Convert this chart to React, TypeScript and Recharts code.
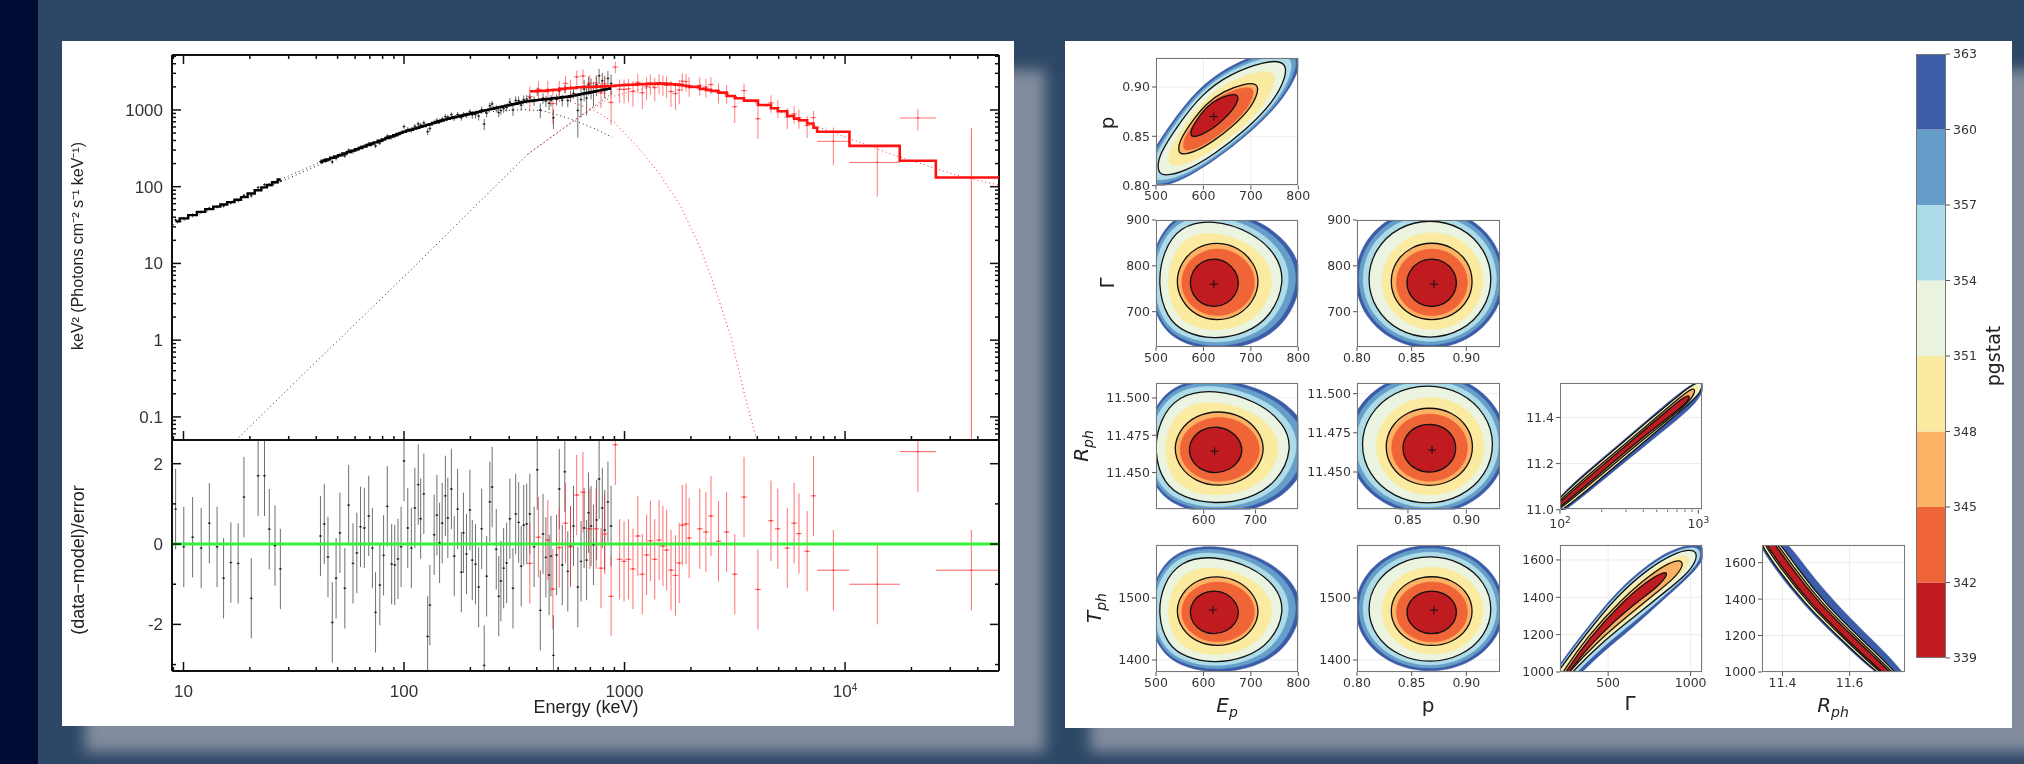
import React from 'react';
import {
  Bar, BarChart, CartesianGrid, ErrorBar, ReferenceLine, Scatter, ScatterChart, XAxis, YAxis,
} from 'recharts';

const blackEnergy = [9.21, 10.03, 11, 12.03, 13.1, 14.2, 15.2, 16.4, 17.7, 18.8, 20.3, 21.8, 23.3, 24.5, 26, 27.5,
  41.8, 43.5, 45.2, 47.3, 49.2, 51.2, 53.9, 56.1, 58.7, 61.1, 63.5, 66.1, 69.2, 71.9, 74.3, 77.7, 80.8, 84, 87.9, 90.8, 93.9, 97,
  100, 104, 108, 112, 116, 119, 123, 128, 131, 137, 141, 145, 149, 154, 158, 164, 169, 175, 182, 186, 192, 199, 204, 211, 218, 225, 231, 237,
  245, 251, 262, 269, 275, 283, 292, 302, 312, 321, 331, 340, 349, 360, 372, 389, 402, 415, 427, 440, 455, 464, 476, 492, 506, 522, 536, 553,
  569, 587, 614, 635, 656, 673, 687, 705, 723, 747, 767, 793, 813, 841, 869];
const blackResid = [0.87, -0.07, 0.17, -0.1, 0.52, -0.07, -0.85, -0.46, -0.48, 1.17, -1.35, 1.7, 1.7, 0.37, -0.04, -0.62,
  0.2, 0.5, -0.32, -1.95, -0.85, 0.28, -1.1, 0.97, -0.48, -0.22, 0.43, 0.4, 0.7, -0.1, -1.7, -1.02, -0.28, 0.94, -0.5, -0.52, -0.37, -0.07,
  2.07, 0.4, -0.1, 0.9, 1.48, 0.63, 1.25, -2.3, -1.52, 0.23, 0.72, 0.03, 0.52, 1.2, 0.65, 1.37, -0.3, 0.87, -0.7, 0.28, -0.25, 0.85, -0.4, -0.5, -1.07, 0.38, -3.02, -0.8,
  1.05, 1.42, -0.13, -1.3, -0.92, -0.6, -0.47, 0.63, -1.1, 0.75, 0.54, -0.55, 0.47, 0.5, 0.75, -0.07, 1.85, -1.65, 0.25, -0.33, -0.77, -0.3, -2.77, -0.27, 1.37, -0.52, 1.8, -0.68,
  -0.05, 0.45, -1.07, -0.43, 0.4, -0.4, 0.78, 0.45, -0.02, 0.6, 1.62, 0.9, 0.35, 1.05, 0.45];
const blackModel = [35.3, 38.6, 42.6, 47, 51, 55, 58.7, 63, 67.5, 73, 81.5, 90, 98, 105, 114, 124,
  210, 218, 227, 238, 247, 257, 271, 282, 295, 307, 319, 333, 349, 365, 378, 396, 413, 431, 452, 469, 485, 503,
  521, 538, 553, 571, 587, 601, 617, 638, 652, 678, 692, 711, 728, 748, 764, 785, 802, 818, 839, 853, 871, 889, 904, 923, 944, 964, 979, 995,
  1016, 1035, 1059, 1079, 1096, 1114, 1138, 1161, 1186, 1205, 1230, 1253, 1274, 1294, 1309, 1327, 1343, 1356, 1368, 1384, 1396, 1406, 1419, 1432, 1445, 1462, 1472, 1489,
  1510, 1538, 1578, 1607, 1637, 1660, 1679, 1702, 1726, 1758, 1786, 1820, 1845, 1879, 1914];
const blackErrLimits = [30, 100, 200, 300, 400, 600, 100000];
const blackErrFractions = [0.05, 0.06, 0.08, 0.11, 0.14, 0.16, 0.35];

const redEnergy = [372, 407, 449, 473, 506, 540, 569, 607, 648, 696, 743, 782, 813, 869, 908, 950, 995, 1042, 1092, 1149, 1204, 1259, 1309, 1371, 1435, 1493, 1552, 1625, 1702, 1770, 1828, 1901, 1963,
  2193, 2339, 2466, 2667, 2904, 3162, 3483, 4027, 4613, 4955, 5470, 5875, 6180, 6730, 7194];
const redResid = [-0.48, 0.17, 0.1, -1.12, -0.09, 0.52, -0.07, 1.22, 1.29, 0.38, 0.38, -0.6, 0.25, -1.3, 2.47, -0.38, -0.43, -0.38, -0.62, 0.2, -0.75, -0.27, 0.08, -0.38, 0.1, -0.05, -0.15, -0.65, -0.78, -0.47, 0.47, 0.5, 0.15,
  0.38, 0.3, 0.7, 0.07, 0.3, -0.75, 1.17, -1.13, 0.58, 0.38, -0.1, 0.52, 0.26, -0.18, 1.2];
const redModel = [1750, 1770, 1805, 1824, 1880, 1918, 1938, 1977, 1998, 2000, 2015, 2030, 2038, 2058, 2078, 2100, 2120, 2130, 2140, 2161, 2161, 2185, 2185, 2206, 2206, 2206, 2185, 2161, 2140, 2120, 2078, 2038, 1998,
  1880, 1824, 1770, 1684, 1523, 1420, 1324, 1162, 1051, 961, 835, 767, 734, 665, 585];
const wideEnergy = [8850, 14000, 21400, 37400];
const wideLow = [7470, 10470, 17700, 25800];
const wideHigh = [10470, 17700, 25800, 49500];
const wideResid = [-0.65, -1.0, 2.3, -0.65];
const wideModel = [520, 340, 218, 132];
const wideErr = [200, 133, 247, 445];

const totalGapE = [27.5, 41.8];
const totalGapF = [124, 210];
const softE = [9, 15, 28, 50, 100, 160, 209, 272, 353, 430, 557, 723, 880];
const softF = [32, 58, 118, 245, 510, 750, 887, 980, 1010, 970, 780, 580, 440];
const hardBlackE = [17.3, 33.7, 64.7, 116, 209, 365, 595, 879];
const hardBlackF = [0.0497, 0.326, 2, 10.2, 54.8, 267, 740, 1650];
const hardRedE = [365, 458, 595, 723, 879, 1140, 1480, 1922, 2340, 3240, 4490, 6220, 8630, 12000, 16600, 23000, 31800, 49500];
const hardRedF = [267, 427, 740, 1050, 1490, 1820, 2120, 2050, 1820, 1490, 1100, 740, 521, 367, 259, 192, 142, 105];
const softRedE = [595, 723, 908, 1178, 1435, 1803, 2193, 2500, 3040, 3460, 3940];
const softRedF = [1222, 1000, 670, 301, 149, 54.8, 16.5, 6.06, 1.1, 0.223, 0.055];

const energyMajor = [10, 100, 1000, 10000];
const energyMinor = [9, 20, 30, 40, 50, 60, 70, 80, 90, 200, 300, 400, 500, 600, 700, 800, 900, 2000, 3000, 4000, 5000, 6000, 7000, 8000, 9000, 20000, 30000, 40000];
const fluxMajor = [0.1, 1, 10, 100, 1000];
const fluxMinor = [0.06, 0.07, 0.08, 0.09, 0.2, 0.3, 0.4, 0.5, 0.6, 0.7, 0.8, 0.9, 2, 3, 4, 5, 6, 7, 8, 9, 20, 30, 40, 50, 60, 70, 80, 90, 200, 300, 400, 500, 600, 700, 800, 900, 2000, 3000, 4000, 5000];
const residMajor = [-2, 0, 2];
const residMinor = [-3, -1, 1];
const residDomain = [-3.16, 2.59];

// ---- contour levels, outermost first
const levelColors = ['#3c5ca8', '#659ec9', '#aedbe8', '#eaf4e0', '#faeba0', '#fbb265', '#f06537', '#c11b22'];
const levelOutlined = [false, false, false, true, false, true, false, true];
const levelTicks = [339, 342, 345, 348, 351, 354, 357, 360, 363];
const levelSegments = [342, 3, 3, 3, 3, 3, 3, 3];

const eggEp = [
  [813, 791, 727, 625, 539, 496, 481, 506, 552, 625, 708, 776],
  [803, 782, 720, 623, 541, 499, 485, 509, 553, 623, 703, 768],
  [787, 768, 710, 620, 543, 504, 491, 513, 555, 620, 694, 754],
  [773, 755, 703, 620, 550, 515, 503, 523, 561, 620, 688, 743],
  [750, 735, 691, 621, 562, 532, 522, 539, 571, 621, 678, 725],
  [719, 707, 675, 630, 585, 553, 541, 553, 585, 630, 675, 707],
  [711, 701, 671, 631, 591, 561, 551, 561, 591, 631, 671, 701],
  [676, 669, 650, 623, 596, 577, 570, 577, 596, 623, 650, 669],
];
const eggGamma = [
  [767, 838, 897, 930, 913, 846, 757, 670, 631, 614, 628, 674],
  [767, 835, 892, 923, 907, 843, 758, 674, 638, 621, 635, 679],
  [766, 831, 884, 914, 898, 838, 758, 679, 645, 629, 642, 683],
  [766, 825, 874, 902, 887, 832, 758, 685, 654, 639, 651, 689],
  [763, 812, 853, 876, 864, 818, 756, 696, 669, 657, 667, 699],
  [766, 807, 840, 853, 842, 809, 766, 723, 690, 679, 691, 724],
  [764, 800, 829, 840, 830, 802, 764, 726, 698, 688, 699, 727],
  [763, 788, 809, 817, 810, 790, 763, 736, 716, 709, 717, 737],
];
const roundP = [
  [0.9372, 0.928, 0.9019, 0.8665, 0.8311, 0.805, 0.7958, 0.805, 0.8311, 0.8665, 0.9019, 0.928],
  [0.9341, 0.9253, 0.9003, 0.8665, 0.8327, 0.8077, 0.7989, 0.8077, 0.8327, 0.8665, 0.9003, 0.9253],
  [0.9302, 0.9219, 0.8984, 0.8665, 0.8346, 0.8111, 0.8028, 0.8111, 0.8346, 0.8665, 0.8984, 0.9219],
  [0.9249, 0.9173, 0.8958, 0.8667, 0.8376, 0.8161, 0.8085, 0.8161, 0.8376, 0.8667, 0.8958, 0.9173],
  [0.9173, 0.911, 0.8932, 0.869, 0.8448, 0.827, 0.8207, 0.827, 0.8448, 0.869, 0.8932, 0.911],
  [0.9069, 0.9019, 0.8876, 0.8683, 0.849, 0.8347, 0.8297, 0.8347, 0.849, 0.8683, 0.8876, 0.9019],
  [0.9025, 0.8981, 0.8855, 0.8685, 0.8515, 0.8389, 0.8345, 0.8389, 0.8515, 0.8685, 0.8855, 0.8981],
  [0.8919, 0.8888, 0.8801, 0.8683, 0.8565, 0.8478, 0.8447, 0.8478, 0.8565, 0.8683, 0.8801, 0.8888],
];
const roundGamma = [
  [773, 853, 911, 932, 911, 853, 773, 693, 635, 614, 635, 693],
  [773, 849, 905, 925, 905, 849, 773, 697, 641, 621, 641, 697],
  [772, 844, 896, 915, 896, 844, 772, 700, 648, 629, 648, 700],
  [771, 837, 886, 903, 886, 837, 771, 705, 656, 639, 656, 705],
  [767, 822, 863, 877, 863, 822, 767, 712, 671, 657, 671, 712],
  [766, 810, 842, 853, 842, 810, 766, 722, 690, 679, 690, 722],
  [764, 802, 830, 840, 830, 802, 764, 726, 698, 688, 698, 726],
  [763, 790, 810, 817, 810, 790, 763, 736, 716, 709, 716, 736],
];
const tiltEp = [
  [474, 477, 526, 588, 661, 751, 803, 807, 772, 702, 622, 545, 481],
  [482, 485, 531, 591, 660, 745.5, 794, 798, 766, 699, 623, 550, 489],
  [491, 494, 537, 593, 658, 739, 785, 788, 758, 695, 624, 555, 497],
  [503.5, 505.6, 545.7, 597, 656.7, 730.5, 772.7, 776, 748, 690.4, 625, 561.8, 509],
  [526, 528, 561, 604, 653, 715, 750, 752, 729, 681, 627, 575, 531],
  [547, 548.5, 573, 605, 642, 688, 714, 716, 699, 663, 623, 583, 551],
  [557, 558, 580, 608, 641, 681, 705, 706.5, 691, 659, 623, 589, 560],
  [573, 574, 588, 607, 629, 657, 672, 674, 663, 642, 620, 594, 575],
];
const tiltP = [
  [0.8063, 0.8227, 0.8598, 0.899, 0.9238, 0.9395, 0.9395, 0.9217, 0.8887, 0.8546, 0.8248, 0.8022, 0.796],
  [0.8092, 0.8249, 0.8602, 0.8974, 0.921, 0.9359, 0.9359, 0.919, 0.8877, 0.8552, 0.8269, 0.8054, 0.7995],
  [0.8127, 0.8274, 0.8606, 0.8956, 0.9177, 0.9318, 0.9318, 0.9158, 0.8864, 0.8559, 0.8293, 0.8091, 0.8036],
  [0.8172, 0.8307, 0.8611, 0.8932, 0.9135, 0.9264, 0.9264, 0.9118, 0.8848, 0.8568, 0.8324, 0.8139, 0.8088],
  [0.8256, 0.8369, 0.8621, 0.8887, 0.9056, 0.9163, 0.9163, 0.9042, 0.8818, 0.8585, 0.8383, 0.8229, 0.8187],
  [0.8361, 0.8445, 0.8633, 0.8832, 0.8958, 0.9038, 0.9038, 0.8947, 0.878, 0.8606, 0.8455, 0.834, 0.8309],
  [0.8396, 0.847, 0.8637, 0.8814, 0.8925, 0.8996, 0.8996, 0.8916, 0.8767, 0.8613, 0.8479, 0.8377, 0.8349],
  [0.8521, 0.8571, 0.8684, 0.8802, 0.8877, 0.8925, 0.8925, 0.8871, 0.8771, 0.8668, 0.8577, 0.8509, 0.849],
];

// narrow degenerate pairs: only a few levels can be told apart
const narrowLevels = [0, 3, 4, 5, 7];
const curvedLevels = [0, 2, 3, 4, 5, 7];
const rphGammaG = [
  [85, 196, 452, 788, 1012, 1130, 1040, 745, 452, 196, 85],
  [85, 196, 452, 788, 985, 1075, 1040, 788, 452, 196, 85],
  [85, 196, 452, 778, 946, 1018, 957, 452, 196, 85],
  [85, 196, 452, 765, 914, 957, 879, 452, 196, 85],
  [85, 196, 452, 724, 855, 870, 765, 452, 196, 85],
];
const rphGammaR = [
  [11.0318, 11.2168, 11.4017, 11.5245, 11.5607, 11.5563, 11.4812, 11.4017, 11.2977, 11.1199, 10.9393],
  [11.0246, 11.2095, 11.393, 11.5159, 11.5534, 11.552, 11.5029, 11.4407, 11.3179, 11.1344, 10.9494],
  [11.0173, 11.2023, 11.3858, 11.5058, 11.5419, 11.5361, 11.4855, 11.3251, 11.1416, 10.9566],
  [11.0101, 11.1951, 11.3786, 11.4956, 11.5289, 11.5173, 11.4667, 11.3324, 11.1488, 10.9639],
  [11, 11.185, 11.3685, 11.474, 11.5, 11.4812, 11.4451, 11.3425, 11.159, 10.974],
];
const tphGammaG = [
  [109, 209, 352, 555, 757, 899, 1030, 1085, 1081, 980, 818, 656, 453, 312, 211],
  [115, 209, 352, 555, 757, 899, 1010, 1061, 1055, 974, 838, 656, 453, 296, 201],
  [119.5, 209, 352, 555, 757, 899, 990, 1040, 1030, 980, 858, 656, 453, 281, 190],
  [140, 221, 362, 565, 757, 889, 970, 1000, 959, 848, 646, 443, 271, 180],
  [160, 231, 372, 575, 757, 878, 939, 959, 899, 798, 615, 433, 261, 170],
  [180, 247, 383, 575, 737, 838, 868, 798, 656, 453, 271, 190],
];
const tphGammaT = [
  [920, 1045, 1214, 1438, 1589, 1661, 1688, 1670, 1598, 1500, 1375, 1241, 1098, 973, 884],
  [911, 1030, 1200, 1423, 1575, 1647, 1672, 1657, 1593, 1514, 1407, 1268, 1125, 987, 893],
  [902, 1018, 1188, 1411, 1563, 1634, 1657, 1643, 1589, 1527, 1438, 1295, 1152, 1000, 902],
  [902, 1018, 1188, 1402, 1545, 1607, 1630, 1607, 1536, 1455, 1298, 1155, 1000, 902],
  [902, 1009, 1188, 1384, 1523, 1589, 1602, 1571, 1500, 1429, 1298, 1161, 1000, 893],
  [902, 1009, 1179, 1366, 1488, 1539, 1527, 1452, 1363, 1205, 1018, 893],
];
const tphRphR = [
  [11.3005, 11.3801, 11.4597, 11.5592, 11.7184, 11.808, 11.6587, 11.5592, 11.4746, 11.39],
  [11.3075, 11.3871, 11.4667, 11.5662, 11.7254, 11.7861, 11.6268, 11.5274, 11.4478, 11.3672],
  [11.3124, 11.393, 11.4726, 11.5721, 11.7313, 11.7821, 11.6228, 11.5234, 11.4438, 11.3632],
  [11.3174, 11.398, 11.4776, 11.5771, 11.7363, 11.7771, 11.6178, 11.5184, 11.4388, 11.3582],
  [11.3234, 11.404, 11.4836, 11.5831, 11.7423, 11.7691, 11.6099, 11.5104, 11.4308, 11.3503],
];
const tphRphT = [1777, 1558, 1375, 1192, 918, 918, 1192, 1375, 1558, 1777];

// Tph and Rph slices have the same outline as the Gamma slices, on their own axis
const gammaToTph = (g: number) => 1398.4 + 0.665 * (g - 645);
const gammaToRph = (g: number) => 11.4304 + 0.000295 * (g - 645);

const zip = (xs: number[], ys: number[]) => xs.map((x, i) => ({ x, y: ys[i] }));

const toRings = (xs: number[][], ys: number[][], levels = [0, 1, 2, 3, 4, 5, 6, 7]) =>
  xs.map((row, i) => ({ level: levels[i], points: zip(row, ys[i]) }));

const errFraction = (e: number) => blackErrFractions[blackErrLimits.findIndex((l) => e < l)];

// error bars are not clipped by the chart, so stop them at the panel edge
const unitErr = (r: number) => [Math.min(1, r - residDomain[0]), Math.min(1, residDomain[1] - r)];

const blackSpectrum = blackEnergy.map((x, i) => {
  const rel = errFraction(x);
  const y = blackModel[i] * (1 + blackResid[i] * rel);
  return { x, y, ex: x * 0.015, ey: blackModel[i] * rel };
});
const redSpectrum = redEnergy.map((x, i) => {
  const y = redModel[i] * (1 + redResid[i] * 0.3);
  return { x, y, ex: x * 0.03, ey: redModel[i] * 0.3 };
});
const wideSpectrum = wideEnergy.slice(0, 3).map((x, i) => ({
  x,
  y: wideModel[i] + wideResid[i] * wideErr[i],
  ex: [x - wideLow[i], wideHigh[i] - x],
  ey: wideErr[i],
}));
// last bin reaches zero flux, so only its upper error shows
const lastBin = [{ x: wideEnergy[3], y: 132, ex: 0, ey: [131.99, wideErr[3]] }];
const blackSteps = zip(blackEnergy, blackModel);
const redSteps = [...zip(redEnergy, redModel), ...zip(wideLow, wideModel), { x: 49900, y: 132 }];
const blackResiduals = blackEnergy.map((x, i) => ({ x, y: blackResid[i], ex: x * 0.015, ey: unitErr(blackResid[i]) }));
const redResiduals = [
  ...redEnergy.map((x, i) => ({ x, y: redResid[i], ex: x * 0.03, ey: unitErr(redResid[i]) })),
  ...wideEnergy.map((x, i) => ({ x, y: wideResid[i], ex: [x - wideLow[i], wideHigh[i] - x], ey: unitErr(wideResid[i]) })),
];

const NoDot = () => <g />;
const Dot = (color: string) => (p: any) => <circle cx={p.cx} cy={p.cy} r={0.9} fill={color} />;
const Plus = (p: any) => (
  <path d={`M${p.cx - 4} ${p.cy}H${p.cx + 4}M${p.cx} ${p.cy - 4}V${p.cy + 4}`} stroke="#111" strokeWidth={1} fill="none" />
);

const INK = '#333';
const SANS = '"Liberation Sans", Arial, sans-serif';
const DEJAVU = '"DejaVu Sans", sans-serif';

// xspec style ticks: point into the frame, long on the decades
const InnerTick = ({ x, y, payload, side, majors, labelled }: any) => {
  const major = majors.includes(payload.value);
  const len = major ? 9 : 4;
  const d = { bottom: [0, -len], top: [0, len], left: [len, 0], right: [-len, 0] }[side as string] as number[];
  let label: React.ReactNode = null;
  if (labelled && major && side === 'bottom') {
    label = (
      <text x={x} y={y + 26} textAnchor="middle" fontSize={17} fontFamily={SANS} fill={INK}>
        {payload.value === 10000 ? <>10<tspan dy={-6} fontSize={10}>4</tspan></> : payload.value}
      </text>
    );
  }
  if (labelled && major && side === 'left') {
    label = (
      <text x={x - 9} y={y + 6} textAnchor="end" fontSize={17} fontFamily={SANS} fill={INK}>{payload.value}</text>
    );
  }
  return (
    <g>
      <line x1={x} y1={y} x2={x + d[0]} y2={y + d[1]} stroke="#111" strokeWidth={1.5} />
      {label}
    </g>
  );
};

const LogTick = ({ x, y, payload }: any) => {
  const major = payload.value === 100 || payload.value === 1000;
  return (
    <g>
      <line x1={x} y1={y} x2={x} y2={y + (major ? 4 : 2)} stroke="#555" />
      {major && (
        <text x={x} y={y + 18} textAnchor="middle" fontSize={12.5} fontFamily={DEJAVU} fill={INK}>
          10<tspan dy={-5} fontSize={9}>{payload.value === 100 ? 2 : 3}</tspan>
        </text>
      )}
    </g>
  );
};

const curve = (key: string, data: any[], color: string, width = 1, dash?: string, type = 'linear') => (
  <Scatter
    key={key}
    data={data}
    shape={NoDot as any}
    line={{ stroke: color, strokeWidth: width, strokeDasharray: dash, fill: 'none' }}
    lineJointType={type as any}
    isAnimationActive={false}
  />
);

const withBars = (key: string, data: any[], color: string, opacity: number) => (
  <Scatter key={key} data={data} shape={Dot(color) as any} isAnimationActive={false}>
    <ErrorBar dataKey="ey" direction="y" width={0} stroke={color} strokeWidth={0.9} strokeOpacity={opacity} isAnimationActive={false} />
    <ErrorBar dataKey="ex" direction="x" width={0} stroke={color} strokeWidth={1} strokeOpacity={opacity} isAnimationActive={false} />
  </Scatter>
);

const EDGE = { stroke: '#111', strokeWidth: 2 };

const frameAxes = (xMajor: number[], xAll: number[], yMajor: number[], yAll: number[], yDomain: number[], yScale: any, topTicks: boolean) => [
  <XAxis key="xt" xAxisId="top" orientation="top" type="number" dataKey="x" scale="log" domain={[8.87, 49900]} allowDataOverflow ticks={xAll} interval={0} height={1} axisLine={EDGE} tickLine={false} tickSize={0} tickMargin={0}
    tick={topTicks ? (p: any) => <InnerTick {...p} side="top" majors={xMajor} /> : false} />,
  <YAxis key="yr" yAxisId="right" orientation="right" type="number" dataKey="y" scale={yScale} domain={yDomain} allowDataOverflow ticks={yAll} interval={0} width={1} axisLine={EDGE} tickLine={false} tickSize={0} tickMargin={0}
    tick={(p: any) => <InnerTick {...p} side="right" majors={yMajor} />} />,
];

const SpectrumChart = () => (
  <ScatterChart width={952} height={400} margin={{ top: 13, right: 14, bottom: 0, left: 0 }}>
    <XAxis type="number" dataKey="x" scale="log" domain={[8.87, 49900]} allowDataOverflow ticks={[...energyMajor, ...energyMinor]} interval={0} height={1} axisLine={EDGE} tickLine={false} tickSize={0} tickMargin={0}
      tick={(p: any) => <InnerTick {...p} side="bottom" majors={energyMajor} />} />
    <YAxis type="number" dataKey="y" scale="log" domain={[0.05, 5200]} allowDataOverflow ticks={[...fluxMajor, ...fluxMinor]} interval={0} width={110} axisLine={EDGE} tickLine={false} tickSize={0} tickMargin={0}
      tick={(p: any) => <InnerTick {...p} side="left" majors={fluxMajor} labelled />} />
    {frameAxes(energyMajor, [...energyMajor, ...energyMinor], fluxMajor, [...fluxMajor, ...fluxMinor], [0.05, 5200], 'log', true)}
    {curve('gap', zip(totalGapE, totalGapF), '#222', 1, '1 3')}
    {curve('soft', zip(softE, softF), '#222', 1, '1 3')}
    {curve('hardB', zip(hardBlackE, hardBlackF), '#222', 1, '1 3')}
    {curve('hardR', zip(hardRedE, hardRedF), '#f22', 1, '1 3')}
    {curve('softR', zip(softRedE, softRedF), '#f22', 1, '1 3')}
    {withBars('blackPts', blackSpectrum, '#222', 0.75)}
    {withBars('redPts', redSpectrum, '#f33', 0.7)}
    {withBars('widePts', wideSpectrum, '#f33', 0.7)}
    {withBars('lastPt', lastBin, '#f33', 0.85)}
    {curve('blackLo', blackSteps.slice(0, 16), '#000', 2.4, undefined, 'step')}
    {curve('blackHi', blackSteps.slice(16), '#000', 2.4, undefined, 'step')}
    {curve('redHist', redSteps, '#f11', 2.6, undefined, 'stepAfter')}
  </ScatterChart>
);

const ResidualChart = () => (
  <ScatterChart width={952} height={287} margin={{ top: 0, right: 14, bottom: 0, left: 0 }}>
    <XAxis type="number" dataKey="x" scale="log" domain={[8.87, 49900]} allowDataOverflow ticks={[...energyMajor, ...energyMinor]} interval={0} height={55} axisLine={EDGE} tickLine={false} tickSize={0} tickMargin={0}
      tick={(p: any) => <InnerTick {...p} side="bottom" majors={energyMajor} labelled />} />
    <YAxis type="number" dataKey="y" domain={residDomain} allowDataOverflow ticks={[...residMajor, ...residMinor]} interval={0} width={110} axisLine={EDGE} tickLine={false} tickSize={0} tickMargin={0}
      tick={(p: any) => <InnerTick {...p} side="left" majors={residMajor} labelled />} />
    {frameAxes(energyMajor, [...energyMajor, ...energyMinor], residMajor, [...residMajor, ...residMinor], residDomain, 'auto', false)}
    {withBars('blackRes', blackResiduals, '#222', 0.72)}
    {withBars('redRes', redResiduals, '#f33', 0.78)}
    <ReferenceLine y={0} stroke="#35f035" strokeWidth={3} />
  </ScatterChart>
);

type PanelProps = {
  box: number[];
  xDomain: number[];
  yDomain: number[];
  xTicks: number[];
  yTicks: number[];
  xDigits?: number;
  yDigits?: number;
  rings: { level: number; points: { x: number; y: number }[] }[];
  best?: { x: number; y: number };
  logX?: boolean;
};

const ContourPanel = ({ box, xDomain, yDomain, xTicks, yTicks, xDigits = 0, yDigits = 0, rings, best, logX }: PanelProps) => {
  const [left, top, w, h] = box;
  const axisText = { fontSize: 12.5, fill: INK, fontFamily: DEJAVU };
  return (
    <div style={{ position: 'absolute', left: left - 70, top: top - 10 }}>
      <ScatterChart width={w + 84} height={h + 40} margin={{ top: 10, right: 14, bottom: 0, left: 0 }}>
        <CartesianGrid stroke="#ececec" vertical={!logX} />
        <XAxis type="number" dataKey="x" scale={logX ? 'log' : 'auto'} domain={xDomain} allowDataOverflow ticks={xTicks} interval={0} height={30} axisLine={false}
          tick={logX ? LogTick : axisText} tickLine={logX ? false : { stroke: '#555' }} tickSize={logX ? 0 : 4} tickMargin={logX ? 0 : 2} tickFormatter={(v: number) => v.toFixed(xDigits)} />
        <YAxis type="number" dataKey="y" domain={yDomain} allowDataOverflow ticks={yTicks} interval={0} width={70} axisLine={false}
          tick={axisText} tickLine={{ stroke: '#555' }} tickSize={4} tickMargin={2} tickFormatter={(v: number) => v.toFixed(yDigits)} />
        {rings.map((r, i) => (
          <Scatter
            key={i}
            data={r.points}
            shape={NoDot as any}
            line={{ fill: levelColors[r.level], stroke: levelOutlined[r.level] ? '#111' : levelColors[r.level], strokeWidth: levelOutlined[r.level] ? 1.3 : 0.5 }}
            lineJointType="basisClosed"
            isAnimationActive={false}
          />
        ))}
        {best && <Scatter data={[best]} shape={Plus as any} isAnimationActive={false} />}
      </ScatterChart>
      <div style={{ position: 'absolute', left: 70, top: 10, width: w, height: h, boxSizing: 'border-box', border: '1.5px solid #777', pointerEvents: 'none' }} />
    </div>
  );
};

const ColorBar = () => {
  const row = [Object.fromEntries(levelSegments.map((v, i) => [`s${i}`, v]))];
  const colors = [...levelColors].reverse();
  return (
    <div style={{ position: 'absolute', left: 1916, top: 44 }}>
      <BarChart width={74} height={624} data={row} barCategoryGap={0} margin={{ top: 10, right: 0, bottom: 10, left: 0 }}>
        <XAxis hide />
        <YAxis orientation="right" type="number" domain={[339, 363]} allowDataOverflow ticks={levelTicks} interval={0} width={44} axisLine={false}
          tick={{ fontSize: 12.5, fill: INK, fontFamily: DEJAVU }} tickLine={{ stroke: '#555' }} tickSize={4} tickMargin={3} />
        {levelSegments.map((_, i) => (
          <Bar key={i} dataKey={`s${i}`} stackId="cb" fill={colors[i]} isAnimationActive={false} />
        ))}
      </BarChart>
      <div style={{ position: 'absolute', left: 0, top: 10, width: 30, height: 604, boxSizing: 'border-box', border: '1.5px solid #777', pointerEvents: 'none' }} />
    </div>
  );
};

const Title = ({ x, y, rotate, size = 20, font = DEJAVU, children }: any) => (
  <div style={{ position: 'absolute', left: x, top: y, transform: `translate(-50%,-50%)${rotate ? ' rotate(-90deg)' : ''}`, fontSize: size, fontFamily: font, color: '#222', whiteSpace: 'nowrap', lineHeight: 1 }}>
    {children}
  </div>
);

const Sub = ({ base, sub }: { base: string; sub: string }) => (
  <i>{base}<sub style={{ fontSize: '0.7em' }}>{sub}</sub></i>
);

const tphEgg = eggGamma.map((r) => r.map(gammaToTph));
const rphEgg = eggGamma.map((r) => r.map(gammaToRph));
const tphRound = roundGamma.map((r) => r.map(gammaToTph));
const rphRound = roundGamma.map((r) => r.map(gammaToRph));
const tphRphT2 = tphRphR.map(() => tphRphT);

export default function App() {
  return (
    <div style={{ position: 'absolute', left: 0, top: 0, width: 2024, height: 764, overflow: 'hidden', background: '#2d4866' }}>
      <div style={{ position: 'absolute', left: 0, top: 0, width: 38, height: 764, background: '#020b34' }} />
      <div style={{ position: 'absolute', left: 85, top: 70, width: 960, height: 682, background: '#828c9e', filter: 'blur(7px)' }} />
      <div style={{ position: 'absolute', left: 1090, top: 70, width: 980, height: 682, background: '#828c9e', filter: 'blur(7px)' }} />
      <div style={{ position: 'absolute', left: 62, top: 41, width: 952, height: 685, background: '#fff' }} />
      <div style={{ position: 'absolute', left: 1065, top: 41, width: 947, height: 687, background: '#fff' }} />

      {/* the reference is a soft photo of the slide */}
      <div style={{ position: 'absolute', left: 0, top: 0, width: 2024, height: 764, filter: 'blur(0.5px)' }}>
        <div style={{ position: 'absolute', left: 62, top: 41 }}><SpectrumChart /></div>
        <div style={{ position: 'absolute', left: 62, top: 439 }}><ResidualChart /></div>
        <Title x={78} y={246} rotate size={16} font={SANS}>keV² (Photons cm⁻² s⁻¹ keV⁻¹)</Title>
        <Title x={78} y={560} rotate size={18} font={SANS}>(data−model)/error</Title>
        <Title x={586} y={707} size={18} font={SANS}>Energy (keV)</Title>

        <ContourPanel box={[1155.7, 57.7, 142.3, 127.6]} xDomain={[500, 800]} yDomain={[0.8, 0.9294]} xTicks={[500, 600, 700, 800]} yTicks={[0.8, 0.85, 0.9]} yDigits={2}
          rings={toRings(tiltEp, tiltP)} best={{ x: 622, y: 0.87 }} />
        <ContourPanel box={[1155.7, 220.3, 142.3, 127]} xDomain={[500, 800]} yDomain={[623, 900]} xTicks={[500, 600, 700, 800]} yTicks={[700, 800, 900]}
          rings={toRings(eggEp, eggGamma)} best={{ x: 622, y: 760 }} />
        <ContourPanel box={[1357.3, 220.3, 142.7, 127]} xDomain={[0.8, 0.9305]} yDomain={[623, 900]} xTicks={[0.8, 0.85, 0.9]} yTicks={[700, 800, 900]} xDigits={2}
          rings={toRings(roundP, roundGamma)} best={{ x: 0.8704, y: 760 }} />
        <ContourPanel box={[1155.7, 382.7, 142.3, 126.6]} xDomain={[507.7, 783]} yDomain={[11.4252, 11.51]} xTicks={[600, 700]} yTicks={[11.45, 11.475, 11.5]} yDigits={3}
          rings={toRings(eggEp, rphEgg)} best={{ x: 621, y: 11.4643 }} />
        <ContourPanel box={[1357.3, 382.7, 142.7, 126.6]} xDomain={[0.8063, 0.9286]} yDomain={[11.426, 11.5068]} xTicks={[0.85, 0.9]} yTicks={[11.45, 11.475, 11.5]} xDigits={2} yDigits={3}
          rings={toRings(roundP, rphRound)} best={{ x: 0.8706, y: 11.464 }} />
        <ContourPanel box={[1155.7, 544.7, 142.3, 127]} xDomain={[500, 800]} yDomain={[1380.6, 1585.5]} xTicks={[500, 600, 700, 800]} yTicks={[1400, 1500]}
          rings={toRings(eggEp, tphEgg)} best={{ x: 620, y: 1480.6 }} />
        <ContourPanel box={[1357.3, 544.7, 142.7, 127]} xDomain={[0.8, 0.9305]} yDomain={[1380.6, 1585.5]} xTicks={[0.8, 0.85, 0.9]} yTicks={[1400, 1500]} xDigits={2}
          rings={toRings(roundP, tphRound)} best={{ x: 0.8704, y: 1480.6 }} />
        <ContourPanel box={[1559.8, 382.5, 142.7, 126.8]} xDomain={[100, 1075]} yDomain={[11, 11.549]} logX xTicks={[100, 200, 300, 400, 500, 600, 700, 800, 900, 1000]} yTicks={[11, 11.2, 11.4]} yDigits={1}
          rings={toRings(rphGammaG, rphGammaR, narrowLevels)} />
        <ContourPanel box={[1559.8, 544.7, 142.7, 127]} xDomain={[208, 1073]} yDomain={[1000, 1680]} xTicks={[500, 1000]} yTicks={[1000, 1200, 1400, 1600]}
          rings={toRings(tphGammaG, tphGammaT, curvedLevels)} />
        <ContourPanel box={[1762, 544.7, 142.7, 127]} xDomain={[11.339, 11.764]} yDomain={[1000, 1697]} xTicks={[11.4, 11.6]} yTicks={[1000, 1200, 1400, 1600]} xDigits={1}
          rings={toRings(tphRphR, tphRphT2, narrowLevels)} />

        <ColorBar />

        <Title x={1107} y={123} rotate>p</Title>
        <Title x={1107} y={283} rotate>Γ</Title>
        <Title x={1083} y={446} rotate><Sub base="R" sub="ph" /></Title>
        <Title x={1096} y={608} rotate><Sub base="T" sub="ph" /></Title>
        <Title x={1227} y={707}><Sub base="E" sub="p" /></Title>
        <Title x={1428} y={705}>p</Title>
        <Title x={1630} y={703}>Γ</Title>
        <Title x={1833} y={707}><Sub base="R" sub="ph" /></Title>
        <Title x={1993} y={356} rotate size={19}>pgstat</Title>
      </div>
    </div>
  );
}
